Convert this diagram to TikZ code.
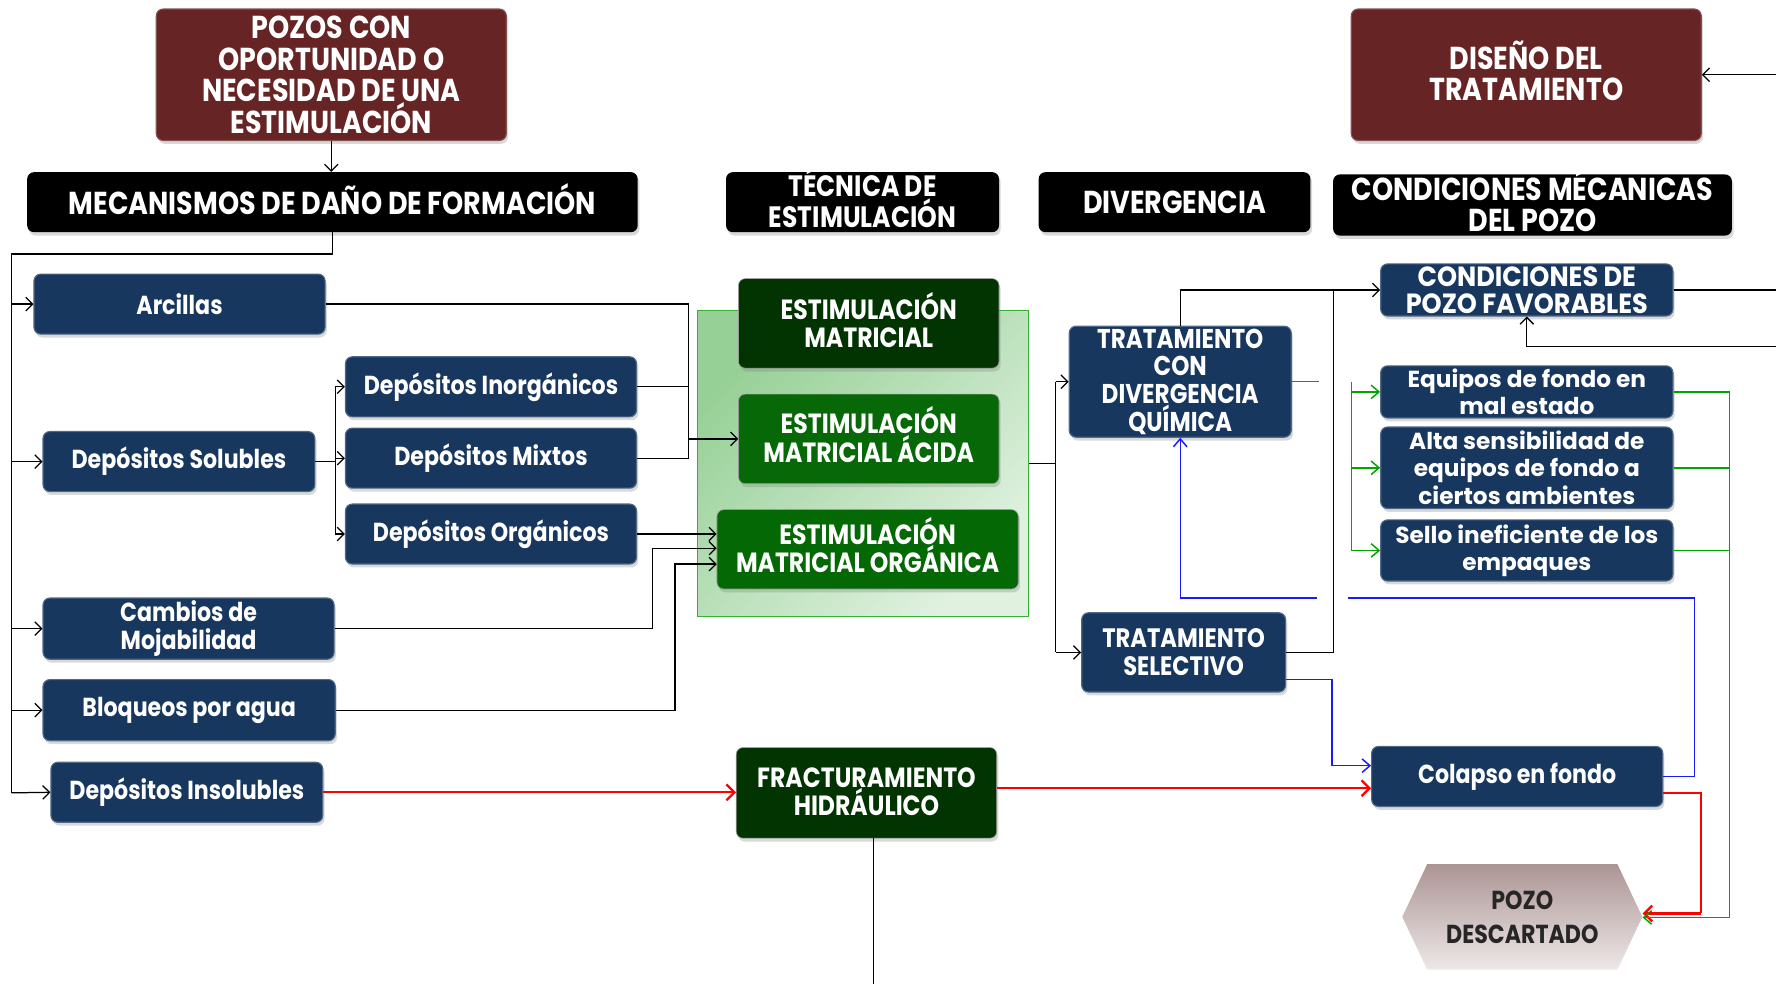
\documentclass[tikz,border=0pt]{standalone}
\usepackage{fontspec}
\setmainfont{Poppins}
\newfontfamily\cond[FakeStretch=0.85]{Poppins}
\newfontfamily\condb[FakeStretch=0.92]{Poppins}
\newfontfamily\wide{Poppins}
\usetikzlibrary{arrows.meta,shadows,calc}
\definecolor{dred}{RGB}{102,36,36}
\definecolor{navyc}{RGB}{24,55,94}
\definecolor{gdark}{RGB}{2,52,2}
\definecolor{gmid}{RGB}{6,104,6}
\definecolor{gbright}{RGB}{4,104,4}
\definecolor{gtop}{RGB}{150,208,150}
\definecolor{gbot}{RGB}{224,241,224}
\definecolor{gline}{RGB}{0,165,0}
\definecolor{gedge}{RGB}{50,180,50}
\definecolor{bline}{RGB}{25,25,255}
\definecolor{rline}{RGB}{255,0,0}
\definecolor{htop}{RGB}{172,148,148}
\definecolor{hbot}{RGB}{238,232,232}
\begin{document}
\begin{tikzpicture}[x=1pt,y=-1pt,
  box/.style={rounded corners=6pt, inner sep=0pt, align=center, text=white,
    drop shadow={shadow xshift=1.5pt,shadow yshift=-3pt,opacity=0.3}},
  raisetext/.style={execute at end node={\rule[-#1]{0pt}{#1}}},
  redbox/.style={box, fill=dred, draw=dred!80!white, line width=1pt, font=\cond\bfseries\fontsize{28}{28}\selectfont},
  blkbox/.style={box, fill=black, font=\cond\bfseries\fontsize{28}{27}\selectfont},
  htext/.style={inner sep=0pt, align=center, text=white, font=\cond\bfseries\fontsize{28}{27}\selectfont},
  nbox/.style={box, fill=navyc, draw=navyc!75!white, line width=1pt, font=\cond\bfseries\fontsize{23}{25}\selectfont},
  sbox/.style={nbox, font=\wide\bfseries\fontsize{20.5}{24}\selectfont},
  gbox/.style={box, draw=white!60!black, line width=0.5pt, font=\cond\bfseries\fontsize{24.5}{25}\selectfont},
  ln/.style={draw=black, line width=1.1pt},
  arr/.style={ln, -{Straight Barb[length=6pt,width=12pt]}},
  rd/.style={draw=rline, line width=2pt},
  rdarr/.style={rd, -{Straight Barb[length=7pt,width=14pt]}},
  gn/.style={draw=gline, line width=1.3pt},
  gnarr/.style={gn, -{Straight Barb[length=7pt,width=12pt]}},
  bl/.style={draw=bline, line width=1.3pt},
  blarr/.style={bl, -{Straight Barb[length=7pt,width=12pt]}}
]
\useasboundingbox (0,0) rectangle (1568,869);

% green background panel
\node[draw=gedge, line width=1pt, top color=gtop, bottom color=gbot, shading angle=45,
      minimum width=292pt, minimum height=270pt, inner sep=0pt] (gbg) at (762,409) {};

% titles
\node[redbox, minimum width=309pt, minimum height=116pt] (pozos) at (292.5,66)
  {POZOS CON\\OPORTUNIDAD O\\NECESIDAD DE UNA\\ESTIMULACIÓN};
\node[redbox, raisetext=7pt, minimum width=309pt, minimum height=116pt] (diseno) at (1347.5,66)
  {DISEÑO DEL\\TRATAMIENTO};

% headers
\node[blkbox, raisetext=6pt, minimum width=539pt, minimum height=53pt] (mec) at (293.5,178.5)
  {MECANISMOS DE DAÑO DE FORMACIÓN};
\node[blkbox, minimum width=241pt, minimum height=53pt] (tec) at (761.5,178.5) {};
\node[htext, font=\cond\bfseries\fontsize{26}{27}\selectfont] (tect) at ([yshift=4pt]tec.center)
  {TÉCNICA DE\\ESTIMULACIÓN};
\node[blkbox, minimum width=240pt, minimum height=53pt] (div) at (1037,178.5)
  {DIVERGENCIA};
\node[blkbox, minimum width=352pt, minimum height=54pt] (cond) at (1353,181) {};
\node[htext] (condt) at ([yshift=4pt]cond.center)
  {CONDICIONES MÉCANICAS\\DEL POZO};

% left column
\node[nbox, minimum width=257pt, minimum height=53pt] (arc) at (158.5,268.5) {Arcillas};
\node[nbox, minimum width=240pt, minimum height=53pt] (sol) at (158,407.5) {Depósitos Solubles};
\node[nbox, minimum width=257pt, minimum height=54pt] (moj) at (166.5,555) {Cambios de\\Mojabilidad};
\node[nbox, minimum width=258pt, minimum height=54pt] (blo) at (167,627) {Bloqueos por agua};
\node[nbox, minimum width=240pt, minimum height=53pt] (ins) at (165,699.5) {Depósitos Insolubles};

% second column
\node[nbox, minimum width=257pt, minimum height=53pt] (inorg) at (433.5,341.5) {Depósitos Inorgánicos};
\node[nbox, minimum width=257pt, minimum height=53pt] (mix) at (433.5,404.5) {Depósitos Mixtos};
\node[nbox, minimum width=257pt, minimum height=53pt] (org) at (433.5,471.5) {Depósitos Orgánicos};

% stimulation techniques
\node[gbox, raisetext=6pt, fill=gdark, minimum width=230pt, minimum height=79pt] (em) at (767,285.5)
  {ESTIMULACIÓN\\MATRICIAL};
\node[gbox, raisetext=8pt, fill=gmid, minimum width=230pt, minimum height=79pt] (ema) at (767,387.5)
  {ESTIMULACIÓN\\MATRICIAL ÁCIDA};
\node[gbox, raisetext=8pt, fill=gbright, minimum width=266pt, minimum height=70pt] (emo) at (766,485)
  {ESTIMULACIÓN\\MATRICIAL ORGÁNICA};
\node[gbox, raisetext=2pt, fill=gdark, minimum width=230pt, minimum height=80pt] (fh) at (765,700)
  {FRACTURAMIENTO\\HIDRÁULICO};

% divergence
\node[nbox, font=\cond\bfseries\fontsize{24}{24.5}\selectfont, minimum width=196pt, minimum height=98pt] (tdq) at (1042,337)
  {TRATAMIENTO\\CON\\DIVERGENCIA\\QUÍMICA};
\node[nbox, font=\cond\bfseries\fontsize{23.5}{25}\selectfont, minimum width=180pt, minimum height=70pt] (ts) at (1045,576)
  {TRATAMIENTO\\SELECTIVO};

% mechanical conditions
\node[nbox, font=\condb\bfseries\fontsize{24.5}{24}\selectfont, minimum width=258pt, minimum height=46pt] (cpf) at (1348,256)
  {CONDICIONES DE\\POZO FAVORABLES};
\node[sbox, minimum width=258pt, minimum height=46pt] (eq) at (1348,346)
  {Equipos de fondo en\\mal estado};
\node[sbox, minimum width=258pt, minimum height=72pt] (alta) at (1348,413)
  {Alta sensibilidad de\\equipos de fondo a\\ciertos ambientes};
\node[sbox, minimum width=258pt, minimum height=54pt] (sello) at (1348,486)
  {Sello ineficiente de los\\empaques};
\node[nbox, minimum width=257pt, minimum height=53pt] (col) at (1339.5,685.5) {Colapso en fondo};

% discarded well (hexagon)
\shade[top color=htop, bottom color=hbot] (1238,809.5) -- (1260,763) -- (1428,763) -- (1450,809.5)
  -- (1428,856) -- (1260,856) -- cycle;
\node[inner sep=0pt, minimum width=212pt, minimum height=93pt, align=center, text=black!85,
  font=\cond\bfseries\fontsize{23}{30}\selectfont] (pd) at (1344,809.5) {POZO\\DESCARTADO};

% free ends
\coordinate (busL) at (10,700);
\coordinate (js) at (296,407.5);
\coordinate (j1) at (608,404.5);
\coordinate (jm) at (576,484);
\coordinate (jb) at (596,498);
\coordinate (fhend) at (771,869);
\coordinate (jg) at (932,409);
\coordinate (jt) at (1177,256);
\coordinate (r1) at (1568,256);
\coordinate (r2) at (1568,306);
\coordinate (r3) at (1568,66);
\coordinate (jgr) at (1193,337);
\coordinate (jgr2) at (1527,810);
\coordinate (jr) at (1502,806.5);
\coordinate (jb1) at (1176,676);
\coordinate (jb2) at (1496,528);

% black connectors
\draw[arr] (pozos.south) -- (pozos.south |- mec.north);
\draw[ln] (mec.south) -- ++(0,19) -| (busL);
\draw[arr] (busL |- arc.west) -- (arc.west);
\draw[arr] (busL |- sol.west) -- (sol.west);
\draw[arr] (busL |- moj.west) -- (moj.west);
\draw[arr] (busL |- blo.west) -- (blo.west);
\draw[arr] (busL) -- (ins.west);

\draw[ln] (sol.east) -- (js);
\draw[ln] (js |- inorg.west) -- (js |- org.west);
\draw[arr] (js |- inorg.west) -- (inorg.west);
\draw[arr] (js |- mix.west) -- (mix.west);
\draw[arr] (js |- org.west) -- (org.west);

\draw[ln] (arc.east) -| (j1) -- (mix.east);
\draw[ln] (inorg.east) -- (inorg.east -| j1);
\draw[arr] (j1 |- ema.west) -- (ema.west);

\draw[arr] (org.east) -- (org.east -| emo.west);
\draw[arr] (moj.east) -| (jm) -- (jm -| emo.west);
\draw[arr] (blo.east) -| (jb) -- (jb -| emo.west);

\draw[ln] (fh.south -| fhend) -- (fhend);

\draw[ln] (gbg.east |- jg) -- (jg);
\draw[ln] (jg |- tdq.west) -- (jg |- ts.west);
\draw[arr] (jg |- tdq.west) -- (tdq.west);
\draw[arr] (jg |- ts.west) -- (ts.west);

\draw[arr] (tdq.north) |- (cpf.west);
\draw[ln] (ts.east) -| (jt);
\draw[ln] (cpf.east) -- (r1);
\draw[arr] (r2) -| (cpf.south);
\draw[arr] (r3) -- (diseno.east);

% red connectors
\draw[rdarr] (ins.east) -- (ins.east -| fh.west);
\draw[rdarr] (fh.east |- 0,696) -- (col.west |- 0,696);
\draw[rd] (col.east |- 0,700) -| (jr);
\draw[rdarr] (jr) -- ([yshift=3pt]pd.east);

% green connectors
\draw[gn] (tdq.east) -- ++(24,0);
\draw[gn] (jgr) -- (jgr |- sello.west);
\draw[gnarr] (jgr |- eq.west) -- (eq.west);
\draw[gnarr] (jgr |- alta.west) -- (alta.west);
\draw[gnarr] (jgr |- sello.west) -- (sello.west);
\draw[gn] (eq.east) -| (jgr2);
\draw[gn] (alta.east) -- (alta.east -| jgr2);
\draw[gn] (sello.east) -- (sello.east -| jgr2);
\draw[gnarr] (jgr2) -- ([yshift=-0.5pt]pd.east);
\draw[rd] (jr) -- ([yshift=3pt,xshift=6pt]pd.east);

% blue connectors
\draw[bl] (ts.east |- 0,600) -| (jb1);
\draw[blarr] (jb1) -- (jb1 -| col.west);
\draw[bl] (col.east) -| (jb2) -- (1190,528);
\draw[blarr] (1163,528) -| (tdq.south);
\end{tikzpicture}
\end{document}
